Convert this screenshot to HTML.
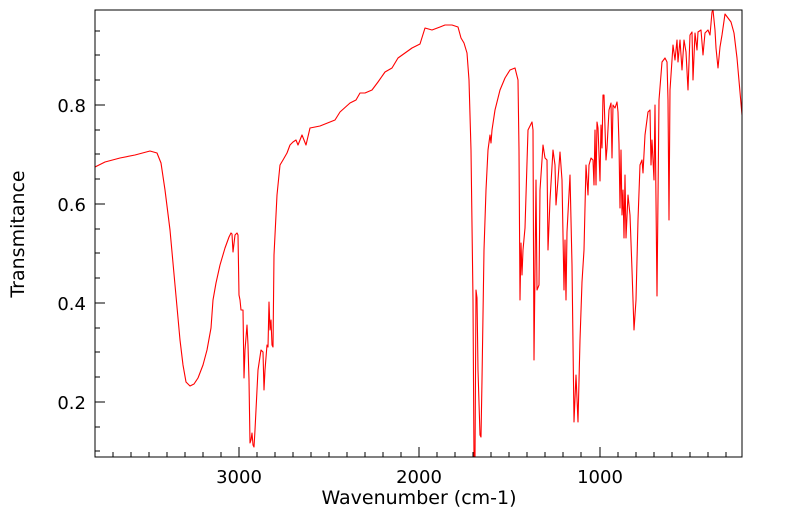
<!DOCTYPE html>
<html><head><meta charset="utf-8"><style>
html,body{margin:0;padding:0;background:#fff;}
svg{display:block;font-family:"DejaVu Sans","Liberation Sans",sans-serif;}
</style></head><body>
<svg width="799" height="516" viewBox="0 0 799 516" xmlns="http://www.w3.org/2000/svg">
<rect width="799" height="516" fill="#fff"/>
<defs><clipPath id="c"><rect x="95" y="10" width="647" height="447"/></clipPath></defs>
<polyline clip-path="url(#c)" fill="none" stroke="#ff0000" stroke-width="1.1" stroke-linejoin="round" points="
95,167 105,162 120,158 135,155 150,151 157,153 161,163 165,190 170,230 175,285 180,340 183,365 186,382 190,386 194,384 198,378 203,365 207,350 211,328 213,300 216,283 220,265 225,248 229,237 231,233 232,234 233,252 235,235 237,233 238,235 239,295 240,300 241,310 243,310 244,378 245,350 247,325 248,345 249,380 250,443 251,440 252,433 253,445 254,447 255,430 258,370 261,350 263,352 264,390 265,370 267,345 268,347 269,302 270,330 271,320 272,345 273,347 274,255 277,195 280,165 283,160 287,153 290,145 293,142 296,140 298,145 302,135 306,145 310,128 320,126 335,120 340,112 350,103 356,100 360,93 365,93 372,90 378,82 385,72 392,68 398,58 405,53 412,48 420,44 425,28 432,30 440,27 445,25 452,25 458,27 461,38 464,43 467,53 469,80 471,150 473,300 474,460 475,460 476,290 477,298 478,370 480,435 481,437 482,380 484,250 486,190 488,150 490,135 491,143 492,130 495,110 500,90 505,78 510,70 515,68 518,80 519,150 520,300 521,243 522,275 523,250 525,228 528,130 532,122 533,130 534,360 536,180 537,290 539,285 540,190 543,145 545,158 547,160 548,250 550,200 553,150 555,165 556,205 558,180 560,152 562,180 563,235 564,290 565,240 566,300 567,232 570,175 572,265 574,422 576,375 578,422 580,340 582,282 584,250 586,165 588,195 589,165 591,158 593,160 594,185 595,130 596,185 597,122 598,128 600,181 601,125 602,148 603,95 604,95 606,160 607,148 609,110 611,103 612,158 613,105 615,108 617,102 618,112 619,144 620,208 621,150 622,215 623,190 624,238 625,175 626,238 628,195 630,215 632,270 634,330 636,300 638,220 640,165 642,160 643,173 645,135 648,112 650,110 651,165 652,140 654,180 655,105 657,296 659,100 662,62 665,58 667,62 668,100 669,220 670,90 673,45 675,60 677,40 678,62 680,40 682,70 684,40 686,52 688,90 690,35 692,32 693,80 695,33 697,50 698,32 701,30 703,55 705,33 708,30 710,35 712,12 713,10 715,30 716,48 718,68 720,47 722,35 725,14 728,18 731,22 734,33 737,58 742,115"/>
<rect x="95" y="10" width="647" height="447" fill="none" stroke="#000" stroke-width="1"/>
<g stroke="#000" stroke-width="1">
<line x1="113" y1="457" x2="113" y2="452"/><line x1="131" y1="457" x2="131" y2="452"/><line x1="149" y1="457" x2="149" y2="452"/><line x1="167" y1="457" x2="167" y2="452"/><line x1="185" y1="457" x2="185" y2="452"/><line x1="203" y1="457" x2="203" y2="452"/><line x1="221" y1="457" x2="221" y2="452"/><line x1="239" y1="457" x2="239" y2="447"/><line x1="257" y1="457" x2="257" y2="452"/><line x1="275" y1="457" x2="275" y2="452"/><line x1="293" y1="457" x2="293" y2="452"/><line x1="311" y1="457" x2="311" y2="452"/><line x1="329" y1="457" x2="329" y2="452"/><line x1="347" y1="457" x2="347" y2="452"/><line x1="365" y1="457" x2="365" y2="452"/><line x1="383" y1="457" x2="383" y2="452"/><line x1="401" y1="457" x2="401" y2="452"/><line x1="419" y1="457" x2="419" y2="447"/><line x1="437" y1="457" x2="437" y2="452"/><line x1="455" y1="457" x2="455" y2="452"/><line x1="473" y1="457" x2="473" y2="452"/><line x1="491" y1="457" x2="491" y2="452"/><line x1="509" y1="457" x2="509" y2="452"/><line x1="527" y1="457" x2="527" y2="452"/><line x1="545" y1="457" x2="545" y2="452"/><line x1="563" y1="457" x2="563" y2="452"/><line x1="581" y1="457" x2="581" y2="452"/><line x1="600" y1="457" x2="600" y2="447"/><line x1="618" y1="457" x2="618" y2="452"/><line x1="636" y1="457" x2="636" y2="452"/><line x1="654" y1="457" x2="654" y2="452"/><line x1="672" y1="457" x2="672" y2="452"/><line x1="690" y1="457" x2="690" y2="452"/><line x1="708" y1="457" x2="708" y2="452"/><line x1="726" y1="457" x2="726" y2="452"/>
<line x1="95" y1="451" x2="100" y2="451"/><line x1="95" y1="427" x2="100" y2="427"/><line x1="95" y1="402" x2="105" y2="402"/><line x1="95" y1="377" x2="100" y2="377"/><line x1="95" y1="352" x2="100" y2="352"/><line x1="95" y1="328" x2="100" y2="328"/><line x1="95" y1="303" x2="105" y2="303"/><line x1="95" y1="278" x2="100" y2="278"/><line x1="95" y1="253" x2="100" y2="253"/><line x1="95" y1="229" x2="100" y2="229"/><line x1="95" y1="204" x2="105" y2="204"/><line x1="95" y1="179" x2="100" y2="179"/><line x1="95" y1="154" x2="100" y2="154"/><line x1="95" y1="130" x2="100" y2="130"/><line x1="95" y1="105" x2="105" y2="105"/><line x1="95" y1="80" x2="100" y2="80"/><line x1="95" y1="55" x2="100" y2="55"/><line x1="95" y1="31" x2="100" y2="31"/>
</g>
<g font-size="18" fill="#000">
<text x="239" y="483" text-anchor="middle">3000</text>
<text x="419" y="483" text-anchor="middle">2000</text>
<text x="600" y="483" text-anchor="middle">1000</text>
<text x="86" y="409" text-anchor="end">0.2</text>
<text x="86" y="310" text-anchor="end">0.4</text>
<text x="86" y="211" text-anchor="end">0.6</text>
<text x="86" y="112" text-anchor="end">0.8</text>
</g>
<g font-size="19" fill="#000">
<text x="419" y="504" text-anchor="middle">Wavenumber (cm-1)</text>
<text transform="translate(24,234) rotate(-90)" text-anchor="middle">Transmitance</text>
</g>
</svg>
</body></html>
